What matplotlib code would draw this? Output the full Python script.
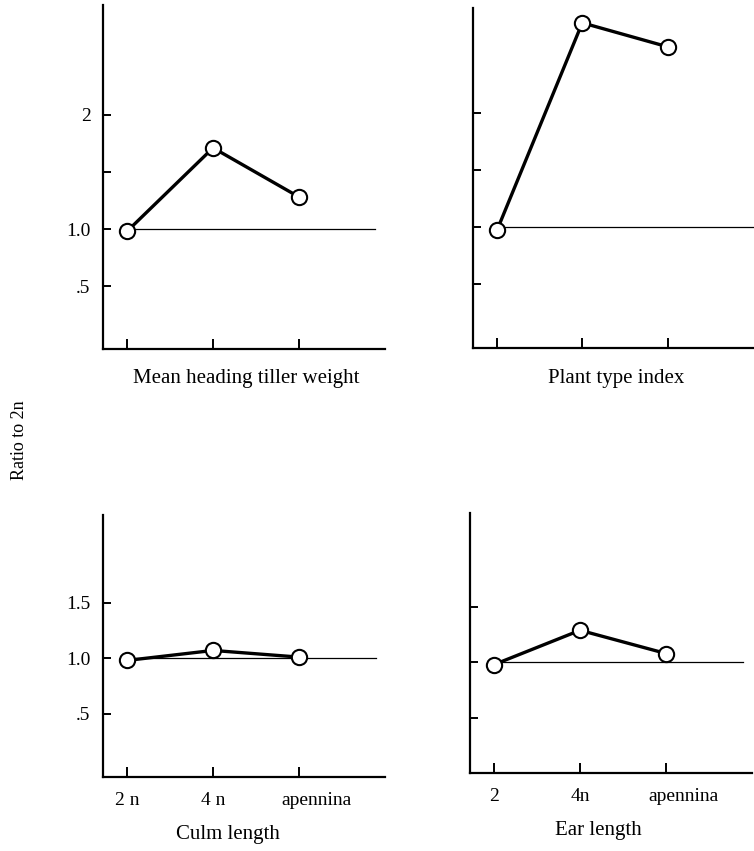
"""Ratio to 2n — four small panels, scanned-paper style."""
import matplotlib; matplotlib.use('Agg')
import matplotlib.pyplot as plt
from matplotlib.transforms import ScaledTranslation

plt.rcParams.update({
    'font.family': 'serif',
    'font.serif': ['Liberation Serif', 'DejaVu Serif'],
    'font.size': 14,
})

categories = ['2n', '4n', 'apennina']
tiller_weight = [0.98, 1.71, 1.28]
plant_type = [0.97, 2.79, 2.58]
culm_length = [0.98, 1.07, 1.01]
ear_length = [0.98, 1.29, 1.08]

W, H = 754, 851
fig = plt.figure(figsize=(W / 100, H / 100), dpi=100)
fig.patch.set_facecolor('white')


def px_axes(left, top, right, bottom):
    return fig.add_axes([left / W, 1 - bottom / H, (right - left) / W, (bottom - top) / H])


panels = [
    # (box px, values, ylim, yticklabels, xticklabels, title, title xy px, ref_end)
    ((103, 5, 385, 349), tiller_weight, (-0.05, 2.96),
     ['.5', '1.0', '', '2'], None, 'Mean heading tiller weight', (246, 378), 2.88),
    ((473, 8, 753, 348), plant_type, (-0.06, 2.92),
     None, None, 'Plant type index', (616, 378), 3.0),
    ((103, 515, 385, 777), culm_length, (-0.07, 2.29),
     ['.5', '1.0', '1.5'], ['2 n', '4 n', 'apennina'], 'Culm length', (228, 835), 2.9),
    ((470, 513, 752, 773), ear_length, (0.0, 2.35),
     None, ['2', '4n', 'apennina'], 'Ear length', (598, 830), 2.9),
]

x = list(range(len(categories)))
for box, vals, ylim, ylabels, xlabels, title, (tx, ty), ref_end in panels:
    ax = px_axes(*box)
    ax.set_xlim(-0.28, 3.0)
    ax.set_ylim(*ylim)
    for s in ('top', 'right'):
        ax.spines[s].set_visible(False)
    for s in ('left', 'bottom'):
        ax.spines[s].set_linewidth(1.6)

    # reference line at 1.0
    ax.plot([0, ref_end], [1, 1], color='black', lw=0.9, zorder=2, clip_on=False)
    ax.plot(x, vals, color='black', lw=2.4, zorder=3,
            marker='o', ms=11, mfc='white', mec='black', mew=1.5, clip_on=False)

    ax.set_xticks(x)
    ax.set_xticklabels(xlabels if xlabels else [])
    yt = [0.5, 1.0, 1.5, 2.0] if ylim[1] > 2.5 else [0.5, 1.0, 1.5]
    ax.set_yticks(yt)
    ax.set_yticklabels(ylabels if ylabels else [])
    ax.tick_params(axis='y', direction='in', length=6, width=1.4, labelsize=14, pad=9)
    ax.tick_params(axis='x', direction='in', length=7, width=1.4, labelsize=14, pad=11)
    if xlabels:
        # the last category label sits a little right of its tick
        lab = ax.get_xticklabels()[-1]
        lab.set_transform(lab.get_transform() + ScaledTranslation(0.17, 0, fig.dpi_scale_trans))

    fig.text(tx / W, 1 - ty / H, title, ha='center', va='center', fontsize=15)

fig.text(20 / W, 1 - 440 / H, 'Ratio to 2n', rotation=90, ha='center', va='center', fontsize=13)

fig.savefig('out.png', dpi=100)
plt.close()
